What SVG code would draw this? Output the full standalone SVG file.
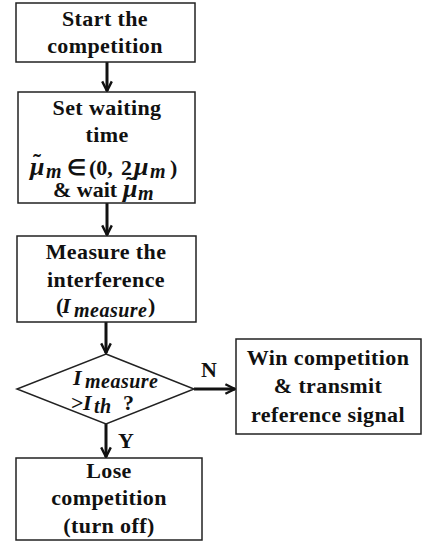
<svg xmlns="http://www.w3.org/2000/svg" width="422" height="541" viewBox="0 0 422 541">
<style>
.box{fill:#fff;stroke:#222;stroke-width:1.5}
.t{font-family:"Liberation Serif","Times New Roman",serif;font-weight:bold;font-size:22px;letter-spacing:0.4px;fill:#111;text-anchor:middle}
.s{font-family:"Liberation Serif","Times New Roman",serif;font-weight:bold;font-size:22px;fill:#111;text-anchor:start}
.m{font-style:italic}
.mu{font-style:italic;font-size:26px}
.til{font-size:24px}
.sub{font-size:20px;font-style:italic;letter-spacing:0.5px}
.c{stroke:#111;stroke-width:3;fill:none}
</style>
<defs>
<marker id="ah" viewBox="0 0 10 10" refX="9" refY="5" markerWidth="4" markerHeight="4" orient="auto" markerUnits="strokeWidth">
<path d="M1,1 L9,5 L1,9" fill="none" stroke="#111" stroke-width="2"/>
</marker>
</defs>
<rect width="422" height="541" fill="#fff"/>
<g id="connectors">
<line class="c" x1="107" y1="62" x2="107" y2="91" marker-end="url(#ah)"/>
<line class="c" x1="107" y1="203" x2="107" y2="235" marker-end="url(#ah)"/>
<line class="c" x1="106" y1="322" x2="106" y2="353" marker-end="url(#ah)"/>
<line class="c" x1="194" y1="389" x2="235" y2="389" marker-end="url(#ah)"/>
<line class="c" x1="106" y1="424" x2="106" y2="457" marker-end="url(#ah)"/>
<text class="s" x="201" y="377">N</text>
<text class="s" x="118" y="448">Y</text>
</g>
<g id="start">
<rect class="box" x="16" y="3" width="179" height="59"/>
<text class="t" x="105" y="26">Start the</text>
<text class="t" x="105" y="53">competition</text>
</g>
<g id="wait">
<rect class="box" x="18" y="92" width="177" height="111"/>
<text class="t" x="107" y="115">Set waiting</text>
<text class="t" x="107" y="142">time</text>
<text class="s"><tspan class="til" x="33" y="170">˜</tspan><tspan class="mu" x="30" y="175">μ</tspan><tspan class="sub" x="46" y="178">m</tspan><tspan x="67" y="175">∈</tspan><tspan x="89" y="175">(0,</tspan><tspan x="121" y="175">2</tspan><tspan class="mu" x="134" y="175">μ</tspan><tspan class="sub" x="150" y="178">m</tspan><tspan x="170" y="175">)</tspan></text>
<text class="s" x="53" y="197">&amp; wait<tspan class="til" x="126" y="193">˜</tspan><tspan class="mu" x="123" y="197">μ</tspan><tspan class="sub" x="138" y="200">m</tspan></text>
</g>
<g id="measure">
<rect class="box" x="17" y="236" width="179" height="86"/>
<text class="t" x="106" y="259">Measure the</text>
<text class="t" x="106" y="287">interference</text>
<text class="s"><tspan x="56" y="313">(</tspan><tspan class="m" x="62" y="313">I</tspan><tspan class="sub" x="74" y="317">measure</tspan><tspan x="148" y="313">)</tspan></text>
</g>
<g id="decision">
<polygon class="box" points="106,354 194,389 106,424 17,389"/>
<text class="s"><tspan class="m" x="73" y="385">I</tspan><tspan class="sub" x="85" y="388">measure</tspan></text>
<text class="s"><tspan x="71" y="410">&gt;</tspan><tspan class="m" x="83" y="410">I</tspan><tspan class="sub" x="94" y="413" letter-spacing="3">th</tspan><tspan x="123" y="410">?</tspan></text>
</g>
<g id="win">
<rect class="box" x="236" y="339" width="185" height="95"/>
<text class="t" x="328" y="365">Win competition</text>
<text class="t" x="328" y="393">&amp; transmit</text>
<text class="t" x="328" y="422">reference signal</text>
</g>
<g id="lose">
<rect class="box" x="16" y="458" width="186" height="82"/>
<text class="t" x="109" y="478">Lose</text>
<text class="t" x="109" y="505">competition</text>
<text class="t" x="109" y="533">(turn off)</text>
</g>
</svg>
